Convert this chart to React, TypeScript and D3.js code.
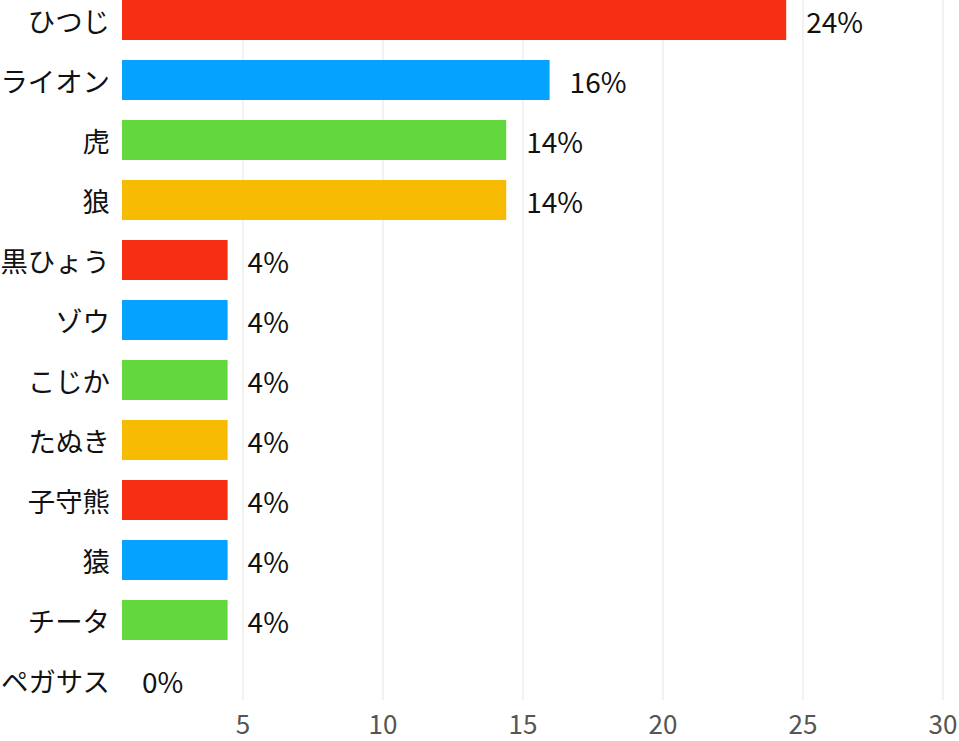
// App.tsx
import React from "react"
import * as d3 from "d3"

// Animals and their share (percent)
const animals = ["ひつじ", "ライオン", "虎", "狼", "黒ひょう", "ゾウ", "こじか", "たぬき", "子守熊", "猿", "チータ", "ペガサス"]
const shares = [24.4, 15.95, 14.4, 14.4, 4.45, 4.45, 4.45, 4.45, 4.45, 4.45, 4.45, 0]
const palette = ["#F62F12", "#05A3FF", "#63D83E", "#F6BB02"]
const xTicks = [5, 10, 15, 20, 25, 30]

const W = 959
const H = 741
const FONT = "'Noto Sans CJK JP', 'Noto Sans', sans-serif"

export default function App() {
    const x = d3.scaleLinear().domain([0, 30]).range([103, 943])
    const y = d3.scaleBand<string>().domain(animals).range([0, 700]).paddingInner(1 / 3).paddingOuter(0)
    const barLeft = 122

    return (
        <svg width={W} height={H} style={{ position: "absolute", left: 0, top: 0 }} fontFamily={FONT}>
            {/* vertical grid */}
            {xTicks.map((t) => (
                <line key={t} x1={x(t)} x2={x(t)} y1={0} y2={700} stroke="#eeeeee" strokeWidth={1.5} />
            ))}
            {/* axis labels */}
            {xTicks.map((t) => (
                <text key={"t" + t} x={x(t)} y={727} textAnchor="middle" dominantBaseline="middle" fontSize={26} fill="#555">
                    {t}
                </text>
            ))}
            {animals.map((a, i) => {
                const y0 = y(a) as number
                const cy = y0 + y.bandwidth() / 2
                const end = Math.max(x(shares[i]), barLeft)
                return (
                    <g key={a}>
                        <text x={110} y={cy} textAnchor="end" dominantBaseline="central" fontSize={27.4} fill="#111">
                            {a}
                        </text>
                        {end > barLeft && (
                            <rect x={barLeft} y={y0} width={end - barLeft} height={y.bandwidth()} fill={palette[i % palette.length]} />
                        )}
                        <text x={end + 20} y={cy + 1} dominantBaseline="central" fontSize={28} fill="#111">
                            {d3.format(".0f")(shares[i])}%
                        </text>
                    </g>
                )
            })}
        </svg>
    )
}
